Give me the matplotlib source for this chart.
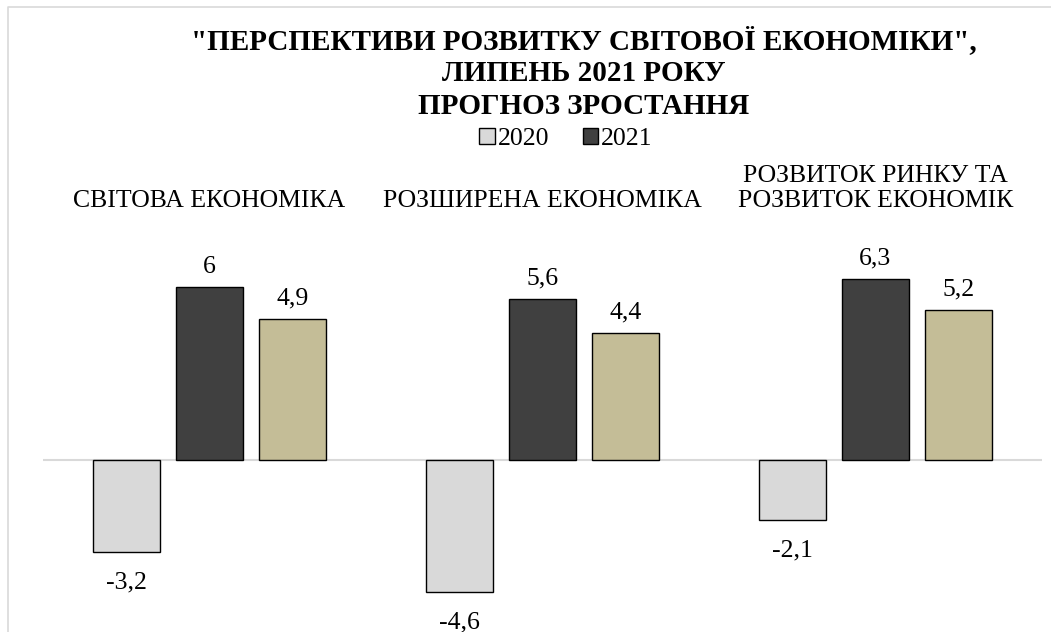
import matplotlib
matplotlib.use("Agg")
import matplotlib.pyplot as plt
import numpy as np
from matplotlib.lines import Line2D
from matplotlib.patches import Patch

categories = ["СВІТОВА ЕКОНОМІКА", "РОЗШИРЕНА ЕКОНОМІКА", "РОЗВИТОК РИНКУ ТА\nРОЗВИТОК ЕКОНОМІК"]
values_2020 = [-3.2, -4.6, -2.1]
values_2021 = [6.0, 5.6, 6.3]
values_2022 = [4.9, 4.4, 5.2]
labels_2020 = ["-3,2", "-4,6", "-2,1"]
labels_2021 = ["6", "5,6", "6,3"]
labels_2022 = ["4,9", "4,4", "5,2"]

title = "\"ПЕРСПЕКТИВИ РОЗВИТКУ СВІТОВОЇ ЕКОНОМІКИ\",\nЛИПЕНЬ 2021 РОКУ\nПРОГНОЗ ЗРОСТАННЯ"


def main():
    plt.rcParams["font.family"] = ["Liberation Serif", "DejaVu Serif"]
    W, H = 1051, 632
    fig = plt.figure(figsize=(W / 100, H / 100), dpi=100)
    ax = fig.add_axes([43 / W, 0, 999 / W, 402 / H])

    x = np.arange(len(categories))
    width = 0.2
    step = 0.25
    series = [
        (values_2020, labels_2020, "#D9D9D9", -step),
        (values_2021, labels_2021, "#404040", 0),
        (values_2022, labels_2022, "#C4BD97", step),
    ]
    for vals, labs, color, off in series:
        bars = ax.bar(x + off, vals, width, color=color, edgecolor="black",
                      linewidth=1.0, zorder=3)
        for b, v, t in zip(bars, vals, labs):
            ax.annotate(t, (b.get_x() + b.get_width() / 2, v),
                        xytext=(0, 7 if v >= 0 else -14), textcoords="offset points",
                        ha="center", va="bottom" if v >= 0 else "top", fontsize=18.5)

    ax.axhline(0, color="#D9D9D9", linewidth=1.5, zorder=2)
    ax.set_xlim(-0.5, 2.5)
    ax.set_ylim(-6, 8)
    ax.set_yticks([])
    ax.xaxis.tick_top()
    ax.set_xticks(x)
    ax.set_xticklabels(categories, fontsize=18.5, linespacing=1.2)
    ax.tick_params(axis="x", length=0, pad=13)
    for s in ax.spines.values():
        s.set_visible(False)
    ax.patch.set_alpha(0)

    fig.text(584 / W, 1 - 73 / H, title, ha="center", va="center",
             fontsize=21, fontweight="bold", linespacing=1.28)

    handles = [Patch(facecolor="#D9D9D9", edgecolor="black", linewidth=1),
               Patch(facecolor="#404040", edgecolor="black", linewidth=1)]
    fig.legend(handles, ["2020", "2021"], loc="center", ncol=2,
               bbox_to_anchor=(566 / W, 1 - 139 / H), frameon=False, fontsize=18.5,
               handlelength=0.6, handleheight=0.6, handletextpad=0.12,
               columnspacing=1.3, borderpad=0)

    # chart-area border (cropped at the right and bottom)
    fig.add_artist(Line2D([8 / W, 8 / W, 1.0], [0, 1 - 7 / H, 1 - 7 / H],
                          transform=fig.transFigure, color="#D9D9D9", linewidth=1.2))

    fig.savefig("out.png", dpi=100)


if __name__ == "__main__":
    main()
